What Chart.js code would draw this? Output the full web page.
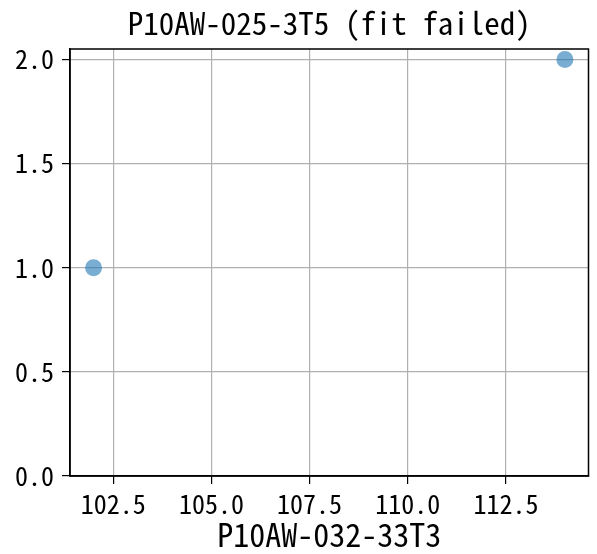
<!DOCTYPE html>
<html>
<head>
<meta charset="utf-8">
<script src="https://cdn.jsdelivr.net/npm/chart.js@4"></script>
<style>
  html, body { margin: 0; padding: 0; background: #fff; }
  #wrap { width: 597px; height: 554px; }
</style>
</head>
<body>
<div id="wrap"><canvas id="c" width="597" height="554"></canvas></div>
<script>
// scatter data: one point per sample
var xValues = [102, 114];
var yValues = [1, 2];
var xTicks = [102.5, 105.0, 107.5, 110.0, 112.5];
var yTicks = [0.0, 0.5, 1.0, 1.5, 2.0];
var titleText = 'P10AW-025-3T5 (fit failed)';
var xLabel = 'P10AW-032-33T3';

var FONT = "'Noto Sans Mono CJK JP', 'Noto Sans CJK JP', monospace";

// closes the axes box and puts the title over the plot area (not the canvas)
var boxPlugin = {
    id: 'box',
    afterDraw: function (chart) {
        var a = chart.chartArea, ctx = chart.ctx;
        ctx.save();
        ctx.strokeStyle = '#000';
        ctx.lineWidth = 1.5;
        ctx.strokeRect(a.left, a.top, a.right - a.left, a.bottom - a.top);
        ctx.fillStyle = '#000';
        ctx.font = '31px ' + FONT;
        ctx.textAlign = 'center';
        ctx.textBaseline = 'middle';
        ctx.fillText(titleText, (a.left + a.right) / 2, 23);
        ctx.restore();
    }
};

var points = xValues.map(function (x, i) { return { x: x, y: yValues[i] }; });

new Chart(document.getElementById('c'), {
    type: 'scatter',
    data: {
        datasets: [{
            data: points,
            backgroundColor: 'rgba(31,119,180,0.6)',
            borderWidth: 0,
            pointRadius: 8.5,
            pointHoverRadius: 8.5
        }]
    },
    options: {
        responsive: false,
        animation: false,
        events: [],
        layout: { padding: { left: 0, right: 3, top: 49, bottom: 0 } },
        plugins: {
            legend: { display: false },
            tooltip: { enabled: false },
            title: { display: false }
        },
        scales: {
            x: {
                type: 'linear',
                min: 101.4,
                max: 114.6,
                afterBuildTicks: function (s) { s.ticks = xTicks.map(function (v) { return { value: v }; }); },
                afterFit: function (s) { s.height = 78; },
                grid: { color: '#b0b0b0', lineWidth: 1.2, tickColor: '#000', tickLength: 8 },
                border: { color: '#000', width: 1.5 },
                ticks: {
                    color: '#000', padding: 5, maxRotation: 0,
                    font: { family: FONT, size: 26 },
                    callback: function (v) { return Number(v).toFixed(1); }
                },
                title: {
                    display: true, text: xLabel, color: '#000',
                    font: { family: FONT, size: 32 },
                    padding: { top: 0, bottom: 0 }
                }
            },
            y: {
                type: 'linear',
                min: 0,
                max: 2.05,
                afterBuildTicks: function (s) { s.ticks = yTicks.map(function (v) { return { value: v }; }); },
                afterFit: function (s) { s.width = 70; },
                grid: { color: '#b0b0b0', lineWidth: 1.2, tickColor: '#000', tickLength: 8 },
                border: { color: '#000', width: 1.5 },
                ticks: {
                    color: '#000', padding: 8,
                    font: { family: FONT, size: 26 },
                    callback: function (v) { return Number(v).toFixed(1); }
                }
            }
        }
    },
    plugins: [boxPlugin]
});
</script>
</body>
</html>
